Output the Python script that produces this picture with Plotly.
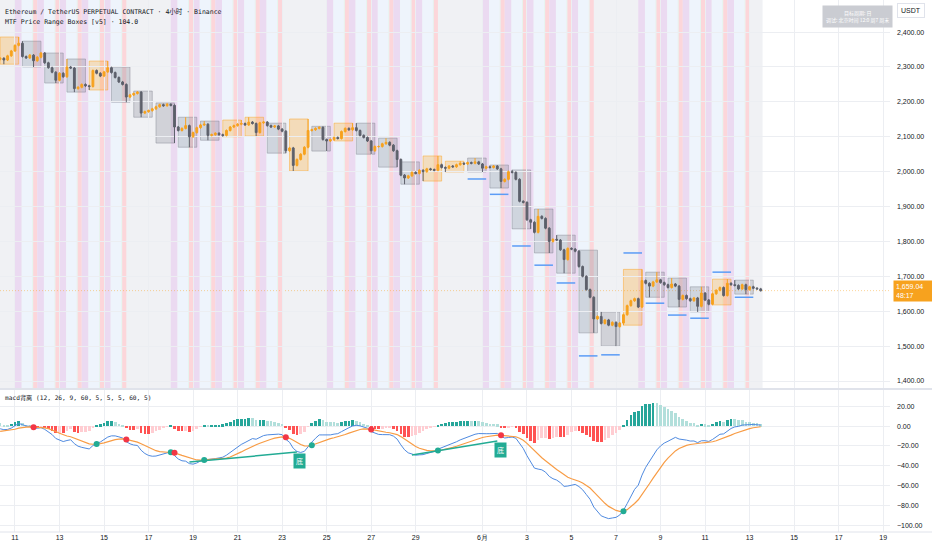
import numpy as np
import pandas as pd
import plotly.graph_objects as go

# ETHUSDT 永续 4小时K线 (北京时间), 从 5/10 08:00 开始, 每天 6 根
first_open = 2322
closes = [
    2325, 2320, 2332, 2346, 2362, 2368,  # 5/10
    2330, 2326, 2334, 2318, 2328, 2340,  # 5/11
    2312, 2298, 2285, 2262, 2282, 2272,  # 5/12
    2300, 2297, 2238, 2242, 2250, 2246,  # 5/13
    2244, 2290, 2282, 2274, 2286, 2298,  # 5/14
    2284, 2270, 2257, 2250, 2214, 2220,  # 5/15
    2224, 2228, 2168, 2172, 2175, 2180,  # 5/16
    2186, 2192, 2189, 2193, 2190, 2128,  # 5/17
    2118, 2124, 2132, 2100, 2112, 2126,  # 5/18
    2134, 2136, 2104, 2106, 2110, 2106,  # 5/19
    2104, 2118, 2128, 2132, 2136, 2138,  # 5/20
    2134, 2142, 2138, 2112, 2140, 2142,  # 5/21
    2132, 2128, 2131, 2122, 2116, 2060,  # 5/22
    2068, 2018, 2035, 2050, 2070, 2118,  # 5/23
    2120, 2124, 2127, 2092, 2088, 2092,  # 5/24
    2098, 2095, 2115, 2124, 2120, 2126,  # 5/25
    2118, 2104, 2098, 2088, 2060, 2072,  # 5/26
    2072, 2080, 2084, 2076, 2060, 2035,  # 5/27
    1990, 1982, 1988, 1998, 1995, 2004,  # 5/28
    2000, 2008, 2006, 2004, 2020, 2012,  # 5/29
    2010, 2016, 2014, 2020, 2024, 2022,  # 5/30
    2026, 2024, 2028, 2022, 2010, 2014,  # 5/31
    2012, 2016, 2008, 1972, 1978, 2000,  # 6/1
    1998, 1978, 1915, 1912, 1862, 1855,  # 6/2
    1826, 1872, 1866, 1838, 1800, 1806,  # 6/3
    1804, 1776, 1748, 1780, 1778, 1772,  # 6/4
    1728, 1700, 1662, 1640, 1578, 1585,  # 6/5
    1565, 1575, 1560, 1568, 1556, 1566,  # 6/6
    1590, 1616, 1630, 1636, 1612, 1688,  # 6/7
    1680, 1672, 1684, 1690, 1682, 1676,  # 6/8
    1668, 1678, 1672, 1634, 1645, 1636,  # 6/9
    1630, 1638, 1614, 1652, 1632, 1620,  # 6/10
    1650, 1660, 1668, 1645, 1680, 1676,  # 6/11
    1674, 1664, 1676, 1662, 1670, 1666,  # 6/12
    1664, 1659.04,                       # 6/13
]

# 日线区间框 (08:00 -> 次日 04:00)
box_hi = [2386, 2374, 2340, 2323, 2317, 2300, 2231, 2197, 2156, 2145, 2148, 2156,
          2139, 2151, 2130, 2139, 2139, 2096, 2028, 2045, 2030, 2039, 2019, 2005,
          1893, 1818, 1775, 1598, 1720, 1712, 1695, 1670, 1692, 1689]
box_lo = [2308, 2300, 2254, 2228, 2234, 2199, 2156, 2082, 2070, 2090, 2100, 2102,
          2053, 2002, 2059, 2088, 2050, 2013, 1964, 1973, 1999, 1999, 1953, 1836,
          1767, 1709, 1538, 1500, 1560, 1640, 1612, 1598, 1618, 1649]

# 蓝色目标线 (5/31 起)
tgt_days = ['2026-05-31', '2026-06-01', '2026-06-02', '2026-06-03', '2026-06-04',
            '2026-06-05', '2026-06-06', '2026-06-07', '2026-06-08', '2026-06-09',
            '2026-06-10', '2026-06-11', '2026-06-12']
tgt_vals = [1979, 1935, 1787, 1732, 1681, 1472, 1475, 1767, 1623, 1589, 1580, 1712, 1640]

# 底背离连线 (MACD)
div_t0 = ['2026-05-18 20:00', '2026-05-28 20:00']
div_v0 = [-36.4, -29.3]
div_t1 = ['2026-05-23 16:00', '2026-06-01 16:00']
div_v1 = [-26.3, -15.2]

# 交易时段背景 (小时)
sess_start = [0, 7.2, 18.6, 19.6]
sess_end = [7.2, 18.6, 19.6, 24]
sess_colors = ['#ebdaf1', '#eef4fc', '#e5f5ee', '#fcd6da']

tick_days = ['2026-05-11', '2026-05-13', '2026-05-15', '2026-05-17', '2026-05-19',
             '2026-05-21', '2026-05-23', '2026-05-25', '2026-05-27', '2026-05-29',
             '2026-06-01', '2026-06-03', '2026-06-05', '2026-06-07', '2026-06-09',
             '2026-06-11', '2026-06-13', '2026-06-15', '2026-06-17', '2026-06-19']
tick_text = ['11', '13', '15', '17', '19', '21', '23', '25', '27', '29',
             '6月', '3', '5', '7', '9', '11', '13', '15', '17', '19']
price_ticks = [1400, 1500, 1600, 1700, 1800, 1900, 2000, 2100, 2200, 2300, 2400]
macd_ticks = [-100, -80, -60, -40, -20, 0, 20]

cor_up = '#f7a21e'
cor_dn = '#5d606b'
grid = '#eceef2'

times = pd.date_range('2026-05-10 08:00', periods=len(closes), freq='4h')
opens = [first_open] + closes[:-1]
highs = [max(o, c) + 3 for o, c in zip(opens, closes)]
lows = [min(o, c) - 3 for o, c in zip(opens, closes)]
for d in range(len(box_hi)):
    seg = range(6 * d, 6 * d + 6)
    kh = max(seg, key=lambda k: max(opens[k], closes[k]))
    kl = min(seg, key=lambda k: min(opens[k], closes[k]))
    highs[kh] = max(highs[kh], box_hi[d])
    lows[kl] = min(lows[kl], box_lo[d])


def ema(vals, n, seed):
    a = 2 / (n + 1)
    e = seed
    out = []
    for v in vals:
        e = e + a * (v - e)
        out.append(e)
    return np.array(out)


# macd (12, 26, 9)
macd = ema(closes, 12, 2336) - ema(closes, 26, 2338)
signal = ema(macd, 9, -6)
hist = macd - signal

hist_cores = []
prev = 4
for h in hist:
    if h >= 0:
        hist_cores.append('#26a69a' if h >= prev else '#b2dfdb')
    else:
        hist_cores.append('#ffcdd2' if h > prev else '#ff5252')
    prev = h

dot_x, dot_y, dot_c = [], [], []
for k in range(1, len(hist)):
    if hist[k - 1] < 0 <= hist[k]:
        dot_x.append(times[k]); dot_y.append(signal[k]); dot_c.append('#22ab94')
    elif hist[k - 1] >= 0 > hist[k]:
        dot_x.append(times[k]); dot_y.append(signal[k]); dot_c.append('#f23645')

fig = go.Figure()

fig.add_trace(go.Candlestick(
    x=times, open=opens, high=highs, low=lows, close=closes,
    increasing=dict(line=dict(color=cor_up, width=1), fillcolor=cor_up),
    decreasing=dict(line=dict(color=cor_dn, width=1), fillcolor=cor_dn),
    whiskerwidth=0, xaxis='x', yaxis='y', hoverinfo='skip'))

# 目标线
bx, by = [], []
for d, v in zip(tgt_days, tgt_vals):
    t0 = pd.Timestamp(d) + pd.Timedelta(hours=8)
    bx += [t0, t0 + pd.Timedelta(hours=20), None]
    by += [v, v, None]
fig.add_trace(go.Scatter(x=bx, y=by, mode='lines', line=dict(color='#5b9cf6', width=1.5),
                         xaxis='x', yaxis='y', hoverinfo='skip'))

# MACD 面板
fig.add_trace(go.Bar(x=times, y=hist, marker=dict(color=hist_cores, line=dict(width=0)),
                     width=4 * 3600 * 1000 * 0.72, xaxis='x2', yaxis='y2', hoverinfo='skip'))
fig.add_trace(go.Scatter(x=times, y=macd, mode='lines', line=dict(color='#4f8ae0', width=1),
                         xaxis='x2', yaxis='y2', hoverinfo='skip'))
fig.add_trace(go.Scatter(x=times, y=signal, mode='lines', line=dict(color='#f89c45', width=1.2),
                         xaxis='x2', yaxis='y2', hoverinfo='skip'))
for t0, v0, t1, v1 in zip(div_t0, div_v0, div_t1, div_v1):
    fig.add_trace(go.Scatter(x=[t0, t1], y=[v0, v1], mode='lines',
                             line=dict(color='#22ab94', width=1.5),
                             xaxis='x2', yaxis='y2', hoverinfo='skip'))
fig.add_trace(go.Scatter(x=dot_x, y=dot_y, mode='markers',
                         marker=dict(color=dot_c, size=6),
                         xaxis='x2', yaxis='y2', hoverinfo='skip'))

shapes = []
# 背景: 周末灰色, 工作日分时段
t_first = times[0] - pd.Timedelta(hours=2)
t_last = times[-1] + pd.Timedelta(hours=2)
shapes.append(dict(type='rect', xref='x', yref='y domain', x0=t_first, x1=t_last, y0=0, y1=1,
                   fillcolor='#f0f1f4', line=dict(width=0), layer='below'))
for day in pd.date_range('2026-05-11', '2026-06-12', freq='D'):
    if day.weekday() >= 5:
        continue
    for s0, s1, cor in zip(sess_start, sess_end, sess_colors):
        shapes.append(dict(type='rect', xref='x', yref='y domain',
                           x0=day + pd.Timedelta(hours=s0), x1=day + pd.Timedelta(hours=s1),
                           y0=0, y1=1, fillcolor=cor, line=dict(width=0), layer='below'))

# 日线区间框
for d in range(len(box_hi)):
    up = closes[6 * d + 5] >= opens[6 * d]
    t0 = times[6 * d]
    t1 = times[6 * d + 5]
    shapes.append(dict(type='rect', xref='x', yref='y', x0=t0, x1=t1,
                       y0=box_lo[d], y1=box_hi[d],
                       fillcolor='rgba(255,152,0,0.24)' if up else 'rgba(120,123,134,0.26)',
                       line=dict(color='rgba(255,152,0,0.4)' if up else 'rgba(120,123,134,0.4)', width=1),
                       layer='below'))

# 最新价虚线
shapes.append(dict(type='line', xref='paper', yref='y', x0=0, x1=1, y0=closes[-1], y1=closes[-1],
                   line=dict(color='rgba(247,162,30,0.45)', width=1, dash='1px,2px'), layer='below'))
# 面板分隔线
shapes.append(dict(type='line', xref='paper', yref='paper', x0=0, x1=1.05, y0=0.2688, y1=0.2688,
                   line=dict(color='#e0e3eb', width=2), layer='above'))
shapes.append(dict(type='line', xref='paper', yref='paper', x0=0, x1=1.05, y0=0, y1=0,
                   line=dict(color='#e0e3eb', width=1), layer='above'))

mono = 'DejaVu Sans Mono, Noto Sans CJK SC'
annotations = [
    dict(xref='paper', yref='paper', x=0, y=1, xanchor='left', yanchor='middle', xshift=3, yshift=-11,
         text='Ethereum / TetherUS PERPETUAL CONTRACT · 4小时 · Binance', showarrow=False,
         font=dict(family=mono, size=6.5, color='#131722')),
    dict(xref='paper', yref='paper', x=0, y=1, xanchor='left', yanchor='middle', xshift=3, yshift=-22,
         text='MTF Price Range Boxes [v5] · 104.0', showarrow=False,
         font=dict(family=mono, size=6.5, color='#131722')),
    dict(xref='paper', yref='y2 domain', x=0, y=1, xanchor='left', yanchor='middle', xshift=3, yshift=-8,
         text='macd背离 (12, 26, 9, 60, 5, 5, 5, 60, 5)', showarrow=False,
         font=dict(family=mono, size=6.2, color='#131722')),
    dict(xref='paper', yref='paper', x=1, y=1, xanchor='left', yanchor='top', xshift=7, yshift=-3,
         text='USDT', showarrow=False, bgcolor='white', bordercolor='#e0e3eb', borderwidth=1, borderpad=3,
         font=dict(family='Liberation Sans', size=7, color='#131722')),
    dict(xref='paper', yref='paper', x=1, y=1, xanchor='right', yanchor='top', xshift=3, yshift=-5,
         text='目标周期: 日<br>调试: 北京时间 12:0 周7 周末', showarrow=False,
         bgcolor='#caccd2', borderpad=3,
         font=dict(family='Noto Sans CJK SC', size=5, color='white')),
    dict(xref='paper', yref='y', x=1, y=closes[-1], xanchor='left', yanchor='middle', xshift=3,
         text=f'{closes[-1]:,.2f}<br>48:17', showarrow=False, bgcolor=cor_up, borderpad=2, width=36,
         align='left', font=dict(family='Liberation Sans', size=7, color='white')),
]
for t1, v1 in zip(div_t1, div_v1):
    annotations.append(dict(xref='x2', yref='y2', x=t1, y=v1, xanchor='center', yanchor='top',
                            xshift=3, yshift=-1, text='底', showarrow=False, bgcolor='#22ab94',
                            borderpad=2, font=dict(family='Noto Sans CJK SC', size=7, color='white')))

fig.update_layout(
    width=932, height=550,
    margin=dict(l=0, r=42, t=0, b=18),
    paper_bgcolor='white', plot_bgcolor='white',
    showlegend=False, bargap=0,
    font=dict(family='Liberation Sans', size=7, color='#131722'),
    shapes=shapes, annotations=annotations,
    xaxis=dict(domain=[0, 1], anchor='y', type='date',
               range=['2026-05-10 07:50', '2026-06-19 07:23'],
               tickvals=tick_days, showticklabels=False, showgrid=True, gridcolor=grid,
               zeroline=False, rangeslider=dict(visible=False)),
    xaxis2=dict(domain=[0, 1], anchor='y2', type='date', matches='x',
                range=['2026-05-10 07:50', '2026-06-19 07:23'],
                tickvals=tick_days, ticktext=tick_text, showgrid=True, gridcolor=grid,
                zeroline=False, ticks='', tickfont=dict(size=7, color='#131722')),
    yaxis=dict(domain=[0.2707, 1], anchor='x', side='right', range=[1380, 2492],
               tickvals=price_ticks, tickformat=',.2f', showgrid=True, gridcolor=grid,
               zeroline=False, ticks='', ticklabelstandoff=6),
    yaxis2=dict(domain=[0, 0.2669], anchor='x2', side='right', range=[-107, 36.4],
                tickvals=macd_ticks, tickformat='.2f', showgrid=True, gridcolor=grid,
                zeroline=False, ticks='', ticklabelstandoff=6),
)

# 去掉页面默认边距, 隐藏工具栏
fig.write_html('out.html', config={'displayModeBar': False},
               post_script="document.body.style.margin='0px';")
